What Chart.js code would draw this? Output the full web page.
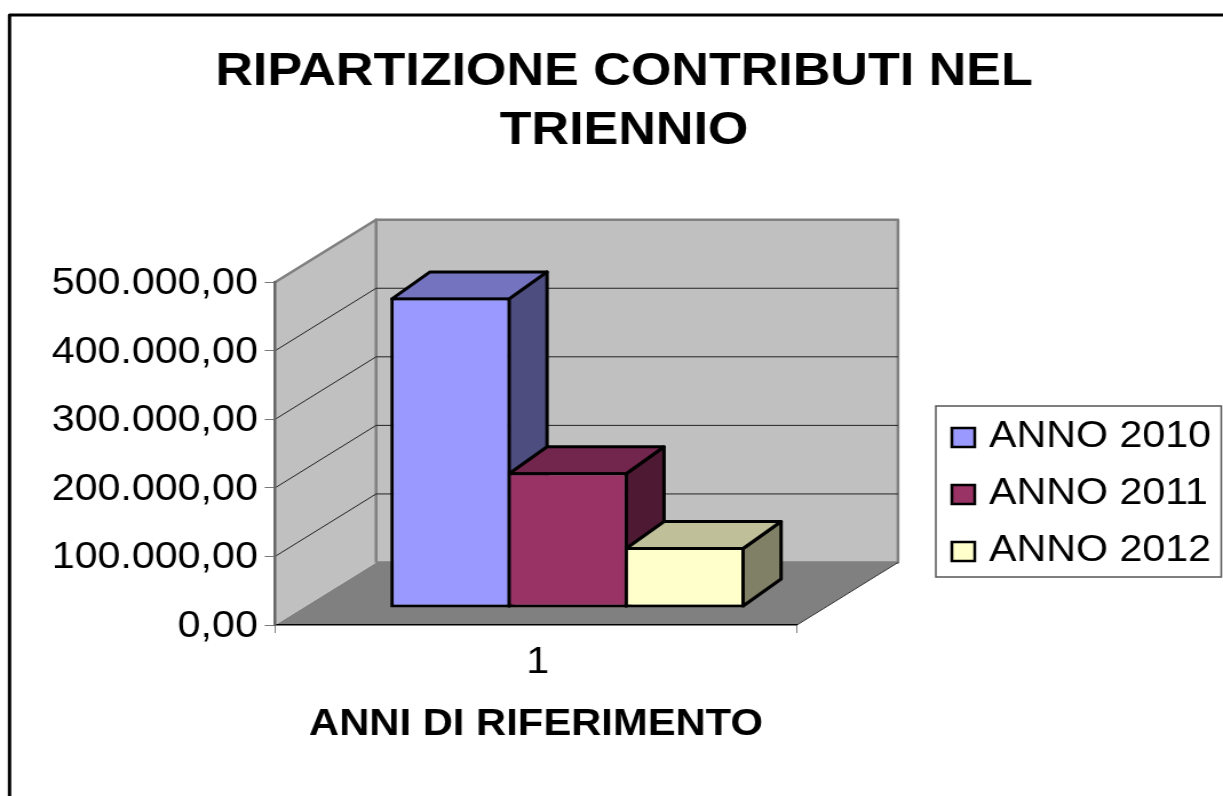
<!DOCTYPE html>
<html>
<head>
<meta charset="utf-8">
<title>Ripartizione contributi nel triennio</title>
<script src="https://cdn.jsdelivr.net/npm/chart.js@4"></script>
<style>
    html, body { margin: 0; padding: 0; background: #fff; overflow: hidden; }
    /* the original picture is stretched sideways, so the canvas is too */
    #chart { position: absolute; left: 0; top: 0; }
</style>
</head>
<body>
<canvas id="chart" width="1069" height="796" style="width:1223px;height:796px"></canvas>
<script>
const categories = ["1"];
const seriesNames = ["ANNO 2010", "ANNO 2011", "ANNO 2012"];
const values2010 = [453000];
const values2011 = [198000];
const values2012 = [89000];
const yTickLabels = ["0,00", "100.000,00", "200.000,00", "300.000,00", "400.000,00", "500.000,00"];

const FONT = "'Liberation Sans', Arial, sans-serif";
const FRONT = ["#9999FF", "#993366", "#FFFFCC"];
const TOP = ["#7373BF", "#73264D", "#BFBF99"];
const SIDE = ["#4D4D80", "#4D1933", "#808066"];

// 3d depth, in canvas pixels
const WALL_DX = 88.3, WALL_DY = -62.5;
const BAR_SHIFT_X = 27.6, BAR_SHIFT_Y = -17;
const BAR_DX = 33.2, BAR_DY = -27;

function poly(ctx, pts, fill, stroke, lw) {
    ctx.beginPath();
    pts.forEach(function (p, i) {
        if (i === 0) ctx.moveTo(p[0], p[1]); else ctx.lineTo(p[0], p[1]);
    });
    ctx.closePath();
    if (fill) { ctx.fillStyle = fill; ctx.fill(); }
    if (stroke) { ctx.strokeStyle = stroke; ctx.lineWidth = lw; ctx.stroke(); }
}

const box3d = {
    id: "box3d",
    afterLayout: function (chart) {
        // title sits centred over plot and legend together
        chart.titleBlock.left = 0;
        chart.titleBlock.right = 1091;
    },
    beforeDraw: function (chart) {
        const ctx = chart.ctx, a = chart.chartArea, y = chart.scales.y;
        const l = a.left, r = a.right, t = a.top, b = a.bottom;
        const bl = l + WALL_DX, br = r + WALL_DX, dy = WALL_DY;
        ctx.save();
        ctx.lineJoin = "round";

        // outer frame, only top and left are in the picture
        ctx.beginPath();
        ctx.moveTo(8.3, 796);
        ctx.lineTo(8.3, 15);
        ctx.lineTo(chart.width, 15);
        ctx.strokeStyle = "#000";
        ctx.lineWidth = 3;
        ctx.stroke();

        poly(ctx, [[l, b], [bl, b + dy], [br, b + dy], [r, b]], "#808080");
        poly(ctx, [[bl, t + dy], [br, t + dy], [br, b + dy], [bl, b + dy]], "#C0C0C0", "#808080", 2.5);
        poly(ctx, [[l, t], [bl, t + dy], [bl, b + dy], [l, b]], "#C0C0C0");

        ctx.beginPath();
        ctx.moveTo(l, t); ctx.lineTo(bl, t + dy); ctx.lineTo(bl, b + dy);
        ctx.strokeStyle = "#808080";
        ctx.lineWidth = 2.5;
        ctx.stroke();

        // grid lines run along side wall and back wall
        y.ticks.forEach(function (tick) {
            if (tick.value === y.min || tick.value === y.max) return;
            const py = y.getPixelForValue(tick.value);
            ctx.beginPath();
            ctx.moveTo(l, py); ctx.lineTo(bl, py + dy); ctx.lineTo(br, py + dy);
            ctx.strokeStyle = "#222";
            ctx.lineWidth = 1;
            ctx.stroke();
        });

        ctx.beginPath();
        ctx.moveTo(r, b); ctx.lineTo(br, b + dy);
        ctx.strokeStyle = "#333";
        ctx.lineWidth = 1;
        ctx.stroke();
        ctx.restore();
    },
    beforeDatasetsDraw: function (chart) {
        const ctx = chart.ctx;
        ctx.save();
        ctx.lineJoin = "round";
        // side and top faces first, left to right, library draws the fronts over them
        chart.data.datasets.forEach(function (ds, i) {
            const bar = chart.getDatasetMeta(i).data[0].getProps(["x", "y", "base", "width"], true);
            const x0 = bar.x - bar.width / 2 + BAR_SHIFT_X + 1.5, x1 = x0 + bar.width - 3;
            const y0 = bar.y + BAR_SHIFT_Y + 1.5, y1 = bar.base + BAR_SHIFT_Y - 1.5;
            poly(ctx, [[x1, y0], [x1 + BAR_DX, y0 + BAR_DY], [x1 + BAR_DX, y1 + BAR_DY], [x1, y1]], SIDE[i], "#000", 3);
            poly(ctx, [[x0, y0], [x0 + BAR_DX, y0 + BAR_DY], [x1 + BAR_DX, y0 + BAR_DY], [x1, y0]], TOP[i], "#000", 3);
        });
        ctx.translate(BAR_SHIFT_X, BAR_SHIFT_Y);
    },
    afterDatasetsDraw: function (chart) {
        chart.ctx.restore();
    },
    afterDraw: function (chart) {
        const ctx = chart.ctx;
        const textRows = [437, 494, 551];
        const swatchTops = [427, 484, 541];
        ctx.save();
        ctx.fillStyle = "#fff";
        ctx.fillRect(818, 406, 249.5, 171);
        ctx.strokeStyle = "#555";
        ctx.lineWidth = 1.5;
        ctx.strokeRect(818, 406, 249.5, 171);
        ctx.font = "36px " + FONT;
        ctx.textBaseline = "middle";
        chart.data.datasets.forEach(function (ds, i) {
            ctx.fillStyle = FRONT[i];
            ctx.strokeStyle = "#000";
            ctx.lineWidth = 2.5;
            ctx.fillRect(832, swatchTops[i] + 1, 20, 19);
            ctx.strokeRect(832, swatchTops[i] + 1, 20, 19);
            ctx.fillStyle = "#000";
            ctx.fillText(ds.label, 864.4, textRows[i]);
        });
        ctx.restore();
    }
};

new Chart(document.getElementById("chart"), {
    type: "bar",
    data: {
        labels: categories,
        datasets: [
            { label: seriesNames[0], data: values2010, backgroundColor: FRONT[0] },
            { label: seriesNames[1], data: values2011, backgroundColor: FRONT[1] },
            { label: seriesNames[2], data: values2012, backgroundColor: FRONT[2] }
        ]
    },
    options: {
        responsive: false,
        animation: false,
        categoryPercentage: 0.6727,
        barPercentage: 1.029,
        borderColor: "#000",
        borderWidth: 3,
        borderSkipped: false,
        layout: { padding: { left: 0, right: 372.4, top: 0, bottom: 0 } },
        scales: {
            x: {
                afterFit: function (scale) { scale.height = 171; },
                grid: { drawOnChartArea: false, color: "#808080", tickLength: 8 },
                border: { color: "#000", width: 1.5 },
                ticks: { color: "#000", padding: 8, labelOffset: 1.5, font: { family: FONT, size: 36 } },
                title: {
                    display: true,
                    text: "ANNI DI RIFERIMENTO",
                    color: "#000",
                    font: { family: FONT, size: 36.5, weight: "bold" },
                    padding: { top: 0, bottom: 49 }
                }
            },
            y: {
                min: 0,
                max: 500000,
                afterFit: function (scale) { scale.width = 240.4; },
                grid: { drawOnChartArea: false, color: "#777", tickLength: 9 },
                border: { color: "#666", width: 2.5 },
                ticks: {
                    stepSize: 100000,
                    color: "#000",
                    padding: 6,
                    labelOffset: 2,
                    font: { family: FONT, size: 36 },
                    callback: function (value, i) { return yTickLabels[i]; }
                }
            }
        },
        plugins: {
            legend: { display: false },
            tooltip: { enabled: false },
            title: {
                display: true,
                text: ["RIPARTIZIONE CONTRIBUTI NEL", "TRIENNIO"],
                color: "#000",
                font: { family: FONT, size: 45.5, weight: "bold", lineHeight: 1.29 },
                padding: { top: 43, bottom: 121.8 }
            }
        }
    },
    plugins: [box3d]
});
</script>
</body>
</html>
